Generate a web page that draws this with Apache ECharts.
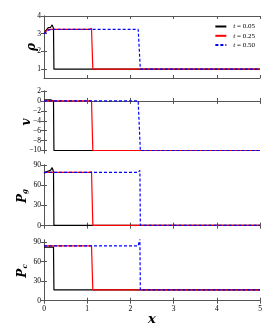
<!DOCTYPE html>
<html><head><meta charset="utf-8">
<script src="https://cdn.jsdelivr.net/npm/echarts@6/dist/echarts.min.js"></script>
<style>html,body{margin:0;padding:0;background:#fff}#c{width:274px;height:335px}</style>
</head><body><div id="c"></div>
<script>
// x positions per time snapshot
const x05 = [0, 0.05, 0.1, 0.15, 0.19, 0.22, 0.23, 5.0];
const x25 = [0, 0.05, 0.1, 0.2, 1.05, 1.1, 1.12, 1.13, 5.0];
const x50 = [0, 0.05, 0.1, 0.2, 2.18, 2.2, 2.22, 2.23, 5.0];
// density
const rho05 = [3.0, 3.2, 3.35, 3.35, 3.5, 3.3, 1.0, 1.0];
const rho25 = [3.0, 3.15, 3.25, 3.25, 3.25, 3.3, 3.25, 1.0, 1.0];
const rho50 = [3.0, 3.1, 3.2, 3.25, 3.25, 3.27, 3.3, 1.0, 1.0];
// velocity
const v05 = [0.1, 0.2, 0.2, 0.2, 0.3, 0.0, -10, -10];
const v25 = [0, 0, 0, 0, 0, 0, 0, -10, -10];
const v50 = [0, 0, 0, 0, 0, 0, 0, -10, -10];
// gas pressure
const pg05 = [78, 80, 81, 82, 86, 80, 0.5, 0.5];
const pg25 = [78, 79, 79, 79, 79, 80, 78, 0.5, 0.5];
const pg50 = [79, 79, 79, 79, 79, 80, 82, 0.5, 0.5];
// cosmic-ray pressure
const pc05 = [82, 82, 82, 82, 83, 82, 16.5, 16.5];
const pc25 = [84, 84, 84, 84, 84, 84, 84, 16.5, 16.5];
const pc50 = [84, 84, 84, 84, 84, 84, 95, 16.5, 16.5];
const names = ['t = 0.05', 't = 0.25', 't = 0.50'];
const xTicks = [0, 1, 2, 3, 4, 5];

const panels = [
  {name:'{b|ρ}', top:16, min:0.5, max:4, ticks:[1,2,3,4], gap:6, d:[rho05,rho25,rho50]},
  {name:'{b|v}', top:91, min:-10.5, max:2, ticks:[-10,-8,-6,-4,-2,0,2], gap:11, d:[v05,v25,v50]},
  {name:'{b|P}{s|g}', top:165, min:-2, max:90, ticks:[0,30,60,90], gap:15, d:[pg05,pg25,pg50]},
  {name:'{b|P}{s|c}', top:240, min:-2, max:93, ticks:[0,30,60,90], gap:15, d:[pc05,pc25,pc50]}
];
const xsets = [x05, x25, x50];
const colors = ['#000000', '#ff0000', '#0000ff'];
const types = ['solid', 'solid', [3, 2]];
const frame = '#555';
const font = 'Liberation Serif';
const nfont = 'DejaVu Serif';

const grid = [], xAxis = [], yAxis = [], series = [];
panels.forEach((p, i) => {
  grid.push({left:44, right:14, top:p.top, height:62});
  const last = i === panels.length - 1;
  xAxis.push({gridIndex:i, type:'value', min:0, max:5, position:'bottom',
    name: last ? 'x' : '', nameLocation:'middle', nameGap:11, nameMoveOverlap:false,
    nameTextStyle:{fontFamily:nfont, fontStyle:'italic', fontWeight:'bold', fontSize:13, color:'#000'},
    axisLine:{lineStyle:{color:frame, width:1}},
    axisTick:{inside:true, length:3, lineStyle:{color:frame}, customValues:xTicks},
    axisLabel:{show:last, fontFamily:font, fontSize:7.5, color:'#000', margin:3, customValues:xTicks},
    splitLine:{show:false}});
  xAxis.push({gridIndex:i, type:'value', min:0, max:5, position:'top',
    axisLine:{lineStyle:{color:frame, width:1}},
    axisTick:{inside:true, length:3, lineStyle:{color:frame}, customValues:xTicks},
    axisLabel:{show:false}, splitLine:{show:false}});
  yAxis.push({gridIndex:i, type:'value', min:p.min, max:p.max, position:'left',
    name:p.name, nameLocation:'middle', nameGap:p.gap, nameRotate:90, nameMoveOverlap:false,
    nameTextStyle:{rich:{
      b:{fontFamily:nfont, fontStyle:'italic', fontWeight:'bold', fontSize:12, color:'#000'},
      s:{fontFamily:nfont, fontStyle:'italic', fontWeight:'bold', fontSize:7, color:'#000', verticalAlign:'bottom', padding:[6,0,0,0]}}},
    axisLine:{show:true, lineStyle:{color:frame, width:1}},
    axisTick:{show:true, inside:true, length:3, lineStyle:{color:frame}, customValues:p.ticks},
    axisLabel:{fontFamily:font, fontSize:7.5, color:'#000', margin:3, customValues:p.ticks,
      formatter: v => (v < 0 ? '\u2212' + Math.abs(v) : String(v))},
    splitLine:{show:false}});
  yAxis.push({gridIndex:i, type:'value', min:p.min, max:p.max, position:'right',
    axisLine:{show:true, lineStyle:{color:frame, width:1}},
    axisTick:{show:true, inside:true, length:3, lineStyle:{color:frame}, customValues:p.ticks},
    axisLabel:{show:false}, splitLine:{show:false}});
  p.d.forEach((ys, k) => {
    series.push({type:'line', name:names[k], xAxisIndex:2*i, yAxisIndex:2*i,
      symbol:'none', clip:true, animation:false, z: k === 2 ? 3 : 2,
      lineStyle:{color:colors[k], width:1.2, type:types[k]},
      itemStyle:{color:colors[k]},
      data: xsets[k].map((x, j) => [x, ys[j]])});
  });
});

const chart = echarts.init(document.getElementById('c'), null, {renderer:'canvas'});
chart.setOption({
  animation:false,
  grid, xAxis, yAxis, series,
  legend:{orient:'vertical', right:14, top:18, itemWidth:11, itemHeight:6, itemGap:2.3,
    data:names, itemStyle:{opacity:0},
    textStyle:{fontFamily:font, fontSize:7, color:'#000', padding:[0,0,0,2],
      rich:{i:{fontFamily:font, fontStyle:'italic', fontSize:7}}},
    formatter: n => '{i|t}' + n.slice(1)}
});
</script></body></html>
